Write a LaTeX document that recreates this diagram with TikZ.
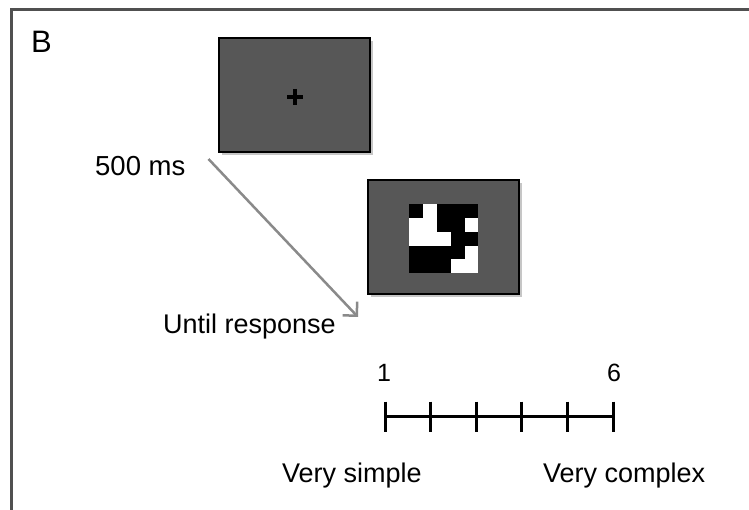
\documentclass[tikz,border=0pt]{standalone}
\usepackage{fontspec}
\setmainfont{Liberation Sans}
\usepackage{xcolor}
\usetikzlibrary{arrows.meta,shadows}
\definecolor{scrgray}{RGB}{87,87,87}
\definecolor{framegray}{RGB}{80,80,80}
\definecolor{arrgray}{RGB}{138,138,138}

\begin{document}
\begin{tikzpicture}[x=1pt,y=-1pt,
   lbl/.style={font=\fontsize{27}{32}\selectfont,inner sep=0pt,anchor=base west},
   num/.style={font=\fontsize{25}{30}\selectfont,inner sep=0pt,anchor=base},
   screen/.style={draw=black,line width=1.2pt,fill=scrgray,
     minimum width=151pt,minimum height=114pt,inner sep=0pt,
     drop shadow={shadow xshift=3pt,shadow yshift=-3pt,opacity=0.45}},
   flow/.style={draw=arrgray,line width=2.5pt,-{Straight Barb[length=10pt,width=20pt]}}]
  \useasboundingbox (0,0) rectangle (749,510);
  % panel frame
  \draw[framegray,line width=2.5pt] (11.5,512) -- (11.5,9.5) -- (751,9.5);
  \node[font=\fontsize{31}{36}\selectfont,inner sep=0pt,anchor=base west] (panel) at (31,53) {B};
  % fixation screen
  \node[screen] (fix) at (294.5,95) {};
  \draw[line width=3.2pt] (287,97) -- (303,97) (295,89) -- (295,105);
  \node[lbl,font=\fontsize{27.5}{32}\selectfont] (ms) at (95,176) {500 ms};
  % stimulus screen
  \node[screen] (stim) at (443.5,237) {};
  \begin{scope}[shift={(409.3,204.3)},x=13.8pt,y=-13.8pt]
    \fill[black] (0,0) rectangle (5,5);
    \foreach \i/\j in {2/1,1/2,2/2,5/2,1/3,2/3,3/3,5/4,4/5,5/5}
      \fill[white] (\i-1,\j-1) rectangle (\i,\j);
  \end{scope}
  \node[lbl] (resp) at (163,333.3) {Until response};
  % time arrow
  \coordinate (t0) at (208.5,159);
  \coordinate (t1) at (358,317);
  \draw[flow] (t0) -- (t1);
  % rating scale
  \coordinate (s1) at (385,416.7);
  \coordinate (s6) at (613,416.7);
  \draw[line width=3pt] (s1) -- (s6);
  \foreach \k in {0,...,5}
    \draw[line width=3pt] (385+45.6*\k,401.7) -- (385+45.6*\k,431.7);
  \node[num] (n1) at (384,381) {1};
  \node[num] (n6) at (614,381) {6};
  \node[lbl] (lo) at (282,482) {Very simple};
  \node[lbl] (hi) at (543,482) {Very complex};
\end{tikzpicture}
\end{document}
